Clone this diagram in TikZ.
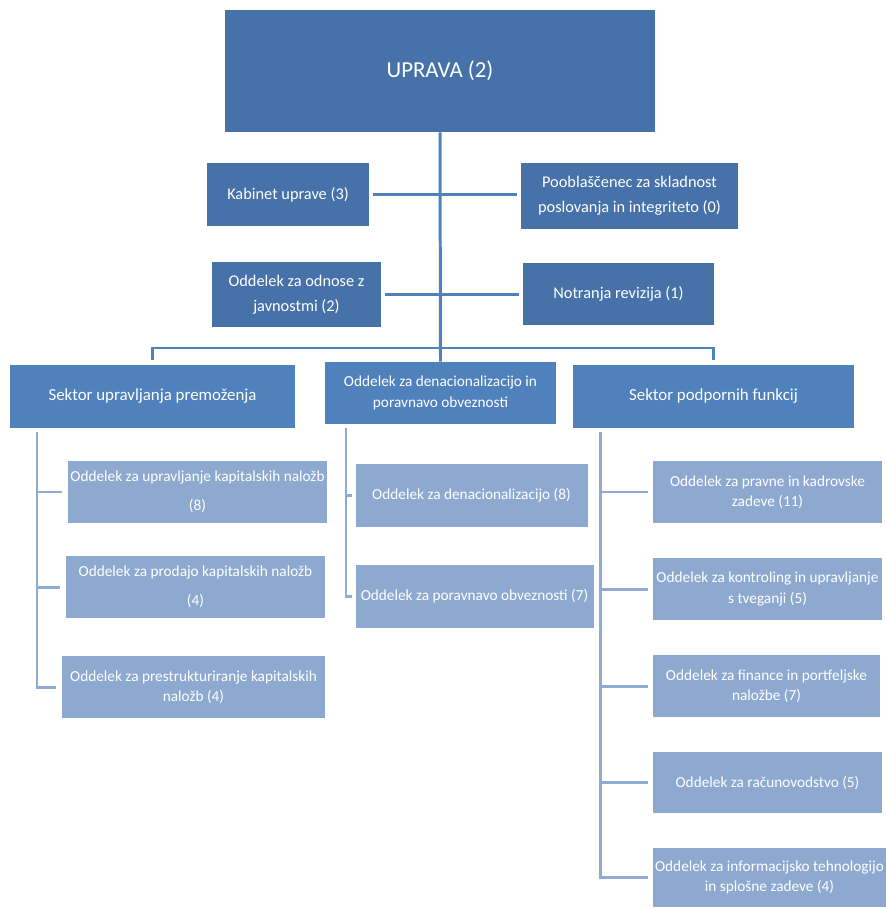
\documentclass[tikz,border=0pt]{standalone}
\usepackage{fontspec}
\setmainfont{Carlito}
\usetikzlibrary{calc}
\usetikzlibrary{positioning}

\definecolor{topblue}{HTML}{4672A9}
\definecolor{midblue}{HTML}{4F81BD}
\definecolor{lightblue}{HTML}{8EA9D0}
\definecolor{lineblue}{HTML}{4F81BD}
\definecolor{linelight}{HTML}{8FAAD3}

\tikzset{
  box/.style={fill=#1, text=white, inner sep=1pt, align=center},
  sz/.style 2 args={minimum width=#1*0.02cm, minimum height=#2*0.02cm},
  topline/.style={draw=lineblue, line width=1.7pt},
  lowline/.style={draw=linelight, line width=1.7pt},
  bigfont/.style={font=\fontsize{13}{15}\selectfont},
  midfont/.style={font=\fontsize{9.3}{14}\selectfont},
  secfont/.style={font=\fontsize{9.6}{12}\selectfont},
  smallfont/.style={font=\fontsize{8.7}{11.5}\selectfont}
}

\begin{document}
\begin{tikzpicture}[x=0.02cm, y=-0.02cm]
          \useasboundingbox (0,0) rectangle (886,909);
          % uprava and staff units
          \node [box=topblue, sz={430}{122}, bigfont] (upr) at (440,71) {UPRAVA (2)};
          \node [box=topblue, sz={162}{63}, midfont] (kab) at (288,194.5) {Kabinet uprave (3)};
          \node [box=topblue, sz={217}{66}, midfont] (poo) at (629.5,196) {Pooblaščenec za skladnost\\poslovanja in integriteto (0)};
          \node [box=topblue, sz={169}{65}, midfont] (odn) at (296.5,294.5) {Oddelek za odnose z\\javnostmi (2)};
          \node [box=topblue, sz={191}{62}, midfont] (rev) at (618.5,294) {Notranja revizija (1)};
          % sectors
          \node [box=midblue, sz={285}{63}, secfont] (sup) at (152.5,396.5) {Sektor upravljanja premoženja};
          \node [box=midblue, sz={231}{62}, smallfont] (den) at (440.5,393) {Oddelek za denacionalizacijo in\\poravnavo obveznosti};
          \node [box=midblue, sz={281}{63}, secfont] (spf) at (713.5,396.5) {Sektor podpornih funkcij};
          % departments
          \node [box=lightblue, sz={259}{62}, smallfont] (l1) at (197.5,492) {Oddelek za upravljanje kapitalskih naložb\\[5pt](8)};
          \node [box=lightblue, sz={259}{62}, smallfont] (l2) at (195.5,587) {Oddelek za prodajo kapitalskih naložb\\[5pt](4)};
          \node [box=lightblue, sz={263}{62}, smallfont] (l3) at (193.5,687) {Oddelek za prestrukturiranje kapitalskih\\naložb (4)};
          \node [box=lightblue, sz={232}{63}, smallfont] (m1) at (471.5,495.5) {Oddelek za denacionalizacijo (8)};
          \node [box=lightblue, sz={238}{63}, smallfont] (m2) at (474.5,596.5) {Oddelek za poravnavo obveznosti (7)};
          \node [box=lightblue, sz={229}{62}, smallfont] (r1) at (767.5,492) {Oddelek za pravne in kadrovske\\zadeve (11)};
          \node [box=lightblue, sz={229}{62}, smallfont] (r2) at (767.5,589) {Oddelek za kontroling in upravljanje\\s tveganji (5)};
          \node [box=lightblue, sz={227}{62}, smallfont] (r3) at (766.5,686) {Oddelek za finance in portfeljske\\naložbe (7)};
          \node [box=lightblue, sz={229}{61}, smallfont] (r4) at (767.5,782.5) {Oddelek za računovodstvo (5)};
          \node [box=lightblue, sz={233}{59}, smallfont] (r5) at (769.5,877.5) {Oddelek za informacijsko tehnologijo\\in splošne zadeve (4)};
          % top connectors
          \coordinate (bus) at (440,348);
          \draw [topline] (upr.south) -- (den.north);
          \draw [topline, shorten <=0.1cm, shorten >=0.1cm] (sup.north) |- (bus) -| (spf.north);
          \draw [topline, shorten <=0.08cm, shorten >=0.08cm] (kab.east) -- (kab.east -| poo.west);
          \draw [topline, shorten <=0.08cm, shorten >=0.08cm] (odn.east) -- (odn.east -| rev.west);
          % department connectors
          \coordinate (lt) at (37,432);
          \coordinate (mt) at (346,428);
          \coordinate (rt) at (600,432);
          \draw [lowline, shorten >=0.12cm] (lt) |- (l3.west);
          \foreach \i in {1,2}{
            \draw [lowline, shorten >=0.12cm] (lt |- l\i.west) -- (l\i.west);
          }
          \draw [lowline, shorten >=0.06cm] (mt) |- (m2.west);
          \draw [lowline, shorten >=0.06cm] (mt |- m1.west) -- (m1.west);
          \draw [lowline, shorten >=0.1cm] (rt) |- (r5.west);
          \foreach \i in {1,2,3,4}{
            \draw [lowline, shorten >=0.1cm] (rt |- r\i.west) -- (r\i.west);
          }
        \end{tikzpicture}
\end{document}
